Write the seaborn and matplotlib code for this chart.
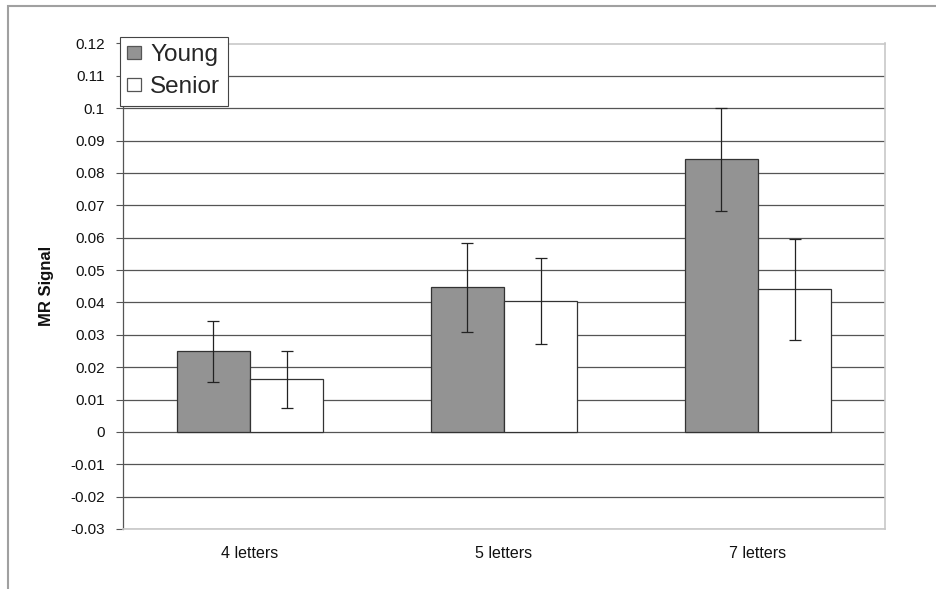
import matplotlib
matplotlib.use("Agg")
import matplotlib.pyplot as plt
import seaborn as sns
import pandas as pd
import numpy as np
from matplotlib.patches import Rectangle

categories = ["4 letters", "5 letters", "7 letters"]
groups = ["Young", "Senior"]
young_vals = [0.0249, 0.0447, 0.0842]
senior_vals = [0.0163, 0.0405, 0.0440]
young_err = [0.0094, 0.0137, 0.0159]
senior_err = [0.0088, 0.0133, 0.0156]
yticks = [-0.03, -0.02, -0.01, 0, 0.01, 0.02, 0.03, 0.04, 0.05, 0.06, 0.07, 0.08, 0.09, 0.1, 0.11, 0.12]
ytick_labels = ["-0.03", "-0.02", "-0.01", "0", "0.01", "0.02", "0.03", "0.04", "0.05", "0.06",
                "0.07", "0.08", "0.09", "0.1", "0.11", "0.12"]

df = pd.DataFrame({
    "cat": categories * 2,
    "group": [groups[0]] * 3 + [groups[1]] * 3,
    "val": young_vals + senior_vals,
})

sns.set_theme(style="white")
plt.rcParams["font.family"] = ["Liberation Sans", "DejaVu Sans"]

fig = plt.figure(figsize=(9.37, 5.89), dpi=100)
ax = fig.add_axes([123/937, 1-529/589, (885-123)/937, (529-43.5)/589])

# outer frame
fig.patches.append(Rectangle((8/937, -0.1), 1.2, 1-6/589+0.1, transform=fig.transFigure,
                             fill=False, edgecolor="#a0a0a0", linewidth=1.5, zorder=0))

palette = {"Young": "#939393", "Senior": "#ffffff"}
sns.barplot(data=df, x="cat", y="val", hue="group", hue_order=groups, order=categories,
            palette=palette, width=0.575, errorbar=None, edgecolor="#333333",
            linewidth=0.9, saturation=1, ax=ax, zorder=3, legend=True)

# error bars using bar positions
bars = [p for p in ax.patches if isinstance(p, Rectangle) and p.get_width() > 0][:6]
for i, p in enumerate(bars):
    gi = i // 3
    ci = i % 3
    vals = young_vals if gi == 0 else senior_vals
    errs = young_err if gi == 0 else senior_err
    xc = p.get_x() + p.get_width() / 2
    ax.errorbar(xc, vals[ci], yerr=errs[ci], fmt="none", ecolor="#222222",
                elinewidth=0.9, capsize=4.3, capthick=0.9, zorder=4)

ax.set_xlim(-0.5, 2.5)
ax.set_ylim(-0.03, 0.12)
ax.set_yticks(yticks)
ax.set_yticklabels(ytick_labels, fontsize=11, color="#111111")
ax.set_xlabel("")
ax.set_ylabel("MR Signal", fontsize=12, fontweight="bold", color="#111111")
ax.yaxis.set_label_coords(-0.091, 0.5)
ax.tick_params(axis="x", length=0, labelsize=11.5, pad=12, colors="#111111")
ax.tick_params(axis="y", length=5, width=0.8, color="#555555", direction="out", pad=8, left=True)
for t in yticks[:-1]:
    ax.axhline(t, color="#555555", linewidth=0.9, zorder=1)
ax.axhline(0.12, color="#c8c8c8", linewidth=1.2, zorder=1)

for s in ["top", "right", "bottom"]:
    ax.spines[s].set_color("#c8c8c8")
    ax.spines[s].set_linewidth(1.2)
ax.spines["left"].set_color("#555555")
ax.spines["left"].set_linewidth(0.9)
ax.grid(False)

handles, labels = ax.get_legend_handles_labels()
for h in handles:
    h.set_edgecolor("#555555")
leg = ax.legend(handles, labels, loc="upper left", bbox_to_anchor=(120/937, 1-37/589),
                bbox_transform=fig.transFigure, borderaxespad=0, fontsize=17.5,
                frameon=True, fancybox=False, framealpha=1, edgecolor="#444444",
                handlelength=0.55, handleheight=0.45, handletextpad=0.4,
                borderpad=0.3, labelspacing=0.42)
leg.get_frame().set_linewidth(0.8)
leg.set_zorder(10)

fig.savefig("out.png", dpi=100)
